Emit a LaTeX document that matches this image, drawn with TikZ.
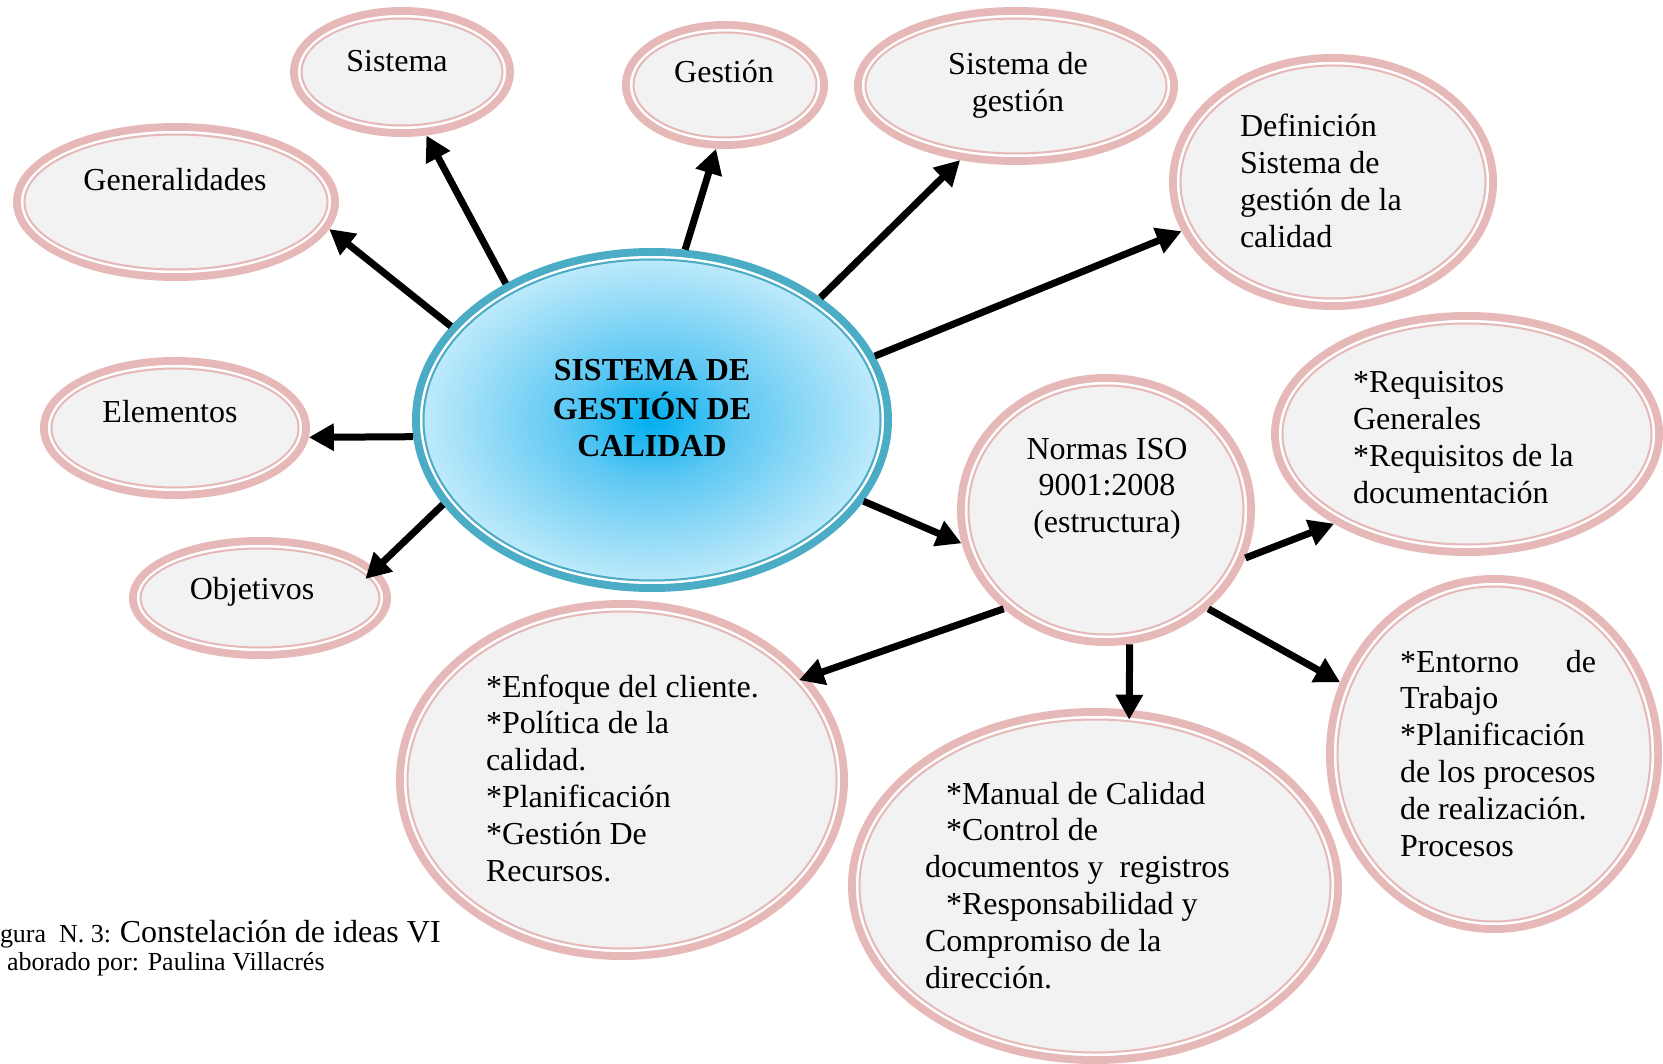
\documentclass[tikz,border=0pt]{standalone}
\usepackage{fontspec}
\setmainfont{Liberation Serif}
\usetikzlibrary{arrows.meta,shapes.geometric}
\definecolor{pinkb}{HTML}{E6B9B8}
\definecolor{fillg}{HTML}{F2F2F2}
\definecolor{tealb}{HTML}{4BACC6}
\definecolor{cbright}{HTML}{00AEEF}
\definecolor{cmid}{HTML}{5EC8F3}
\definecolor{cpale}{HTML}{C9EEFB}
\pgfdeclareradialshading{centsh}{\pgfpoint{0bp}{0bp}}{color(0bp)=(cbright); color(9bp)=(cmid); color(26bp)=(cpale); color(50bp)=(cpale)}
\tikzset{
  bub/.style={ellipse, draw=pinkb, line width=8pt, fill=fillg, inner sep=0pt, outer sep=4pt},
  cbub/.style={ellipse, draw=tealb, line width=8pt, shading=centsh, inner sep=0pt, outer sep=4pt},
  arr/.style={line width=7pt, -{Triangle[length=25pt,width=26pt]}},
  txt/.style={font=\fontsize{32}{36.8}\selectfont, inner sep=0pt, outer sep=0pt},
  captxt/.style={inner sep=0pt, outer sep=0pt, anchor=base west},
}
\newcommand\bubble[7]{%
  \pgfmathsetmacro\bw{2*#4-8}\pgfmathsetmacro\bh{2*#5-8}%
  \node[#6, minimum width=\bw pt, minimum height=\bh pt] (#1) at (#2,#3) {};
  \draw[white, line width=2.5pt] (#1.center) ellipse [x radius=#4pt-9.25pt, y radius=#5pt-9.25pt];
  \draw[#7, line width=2pt] (#1.center) ellipse [x radius=#4pt-11.5pt, y radius=#5pt-11.5pt];
}
\begin{document}
\begin{tikzpicture}[x=1pt,y=-1pt]
\path[use as bounding box, fill=white] (0,0) rectangle (1663,1064);

% bubbles
\bubble{gen}{176}{202}{163}{79}{bub}{pinkb}
\bubble{sis}{402}{72}{112}{65}{bub}{pinkb}
\bubble{ges}{725}{85}{103}{64}{bub}{pinkb}
\bubble{sdg}{1016}{86}{162}{79}{bub}{pinkb}
\bubble{def}{1333}{182}{164}{128}{bub}{pinkb}
\bubble{ele}{175}{428}{135}{71}{bub}{pinkb}
\bubble{obj}{260}{598}{131}{61}{bub}{pinkb}
\bubble{c}{652}{420}{240}{172}{cbub}{tealb}
\bubble{iso}{1106}{510}{149}{136}{bub}{pinkb}
\bubble{req}{1467}{434}{196}{122}{bub}{pinkb}
\bubble{enf}{622}{780}{226}{180}{bub}{pinkb}
\bubble{man}{1095}{886}{247}{178}{bub}{pinkb}
\bubble{ent}{1494}{754}{168}{179}{bub}{pinkb}

% connectors
\draw[arr] (c.155) -- (gen.350);
\draw[arr] (c.137) -- (sis.291);
\draw[arr] (c.79) -- (ges.262);
\draw[arr] (c.36) -- (sdg.233);
\draw[arr] (c.16) -- (def.198);
\draw[arr] (c.184) -- (ele.356);
\draw[arr, shorten >=-14pt] (c.202) -- (obj.14);
\draw[arr] (c.339) -- (iso.193);
\draw[arr] (iso.341) -- (req.214);
\draw[arr, shorten >=-9pt] (iso.224) -- (enf.29);
\draw[arr, shorten >=-10pt] (iso.280) -- (man.79);
\draw[arr] (iso.316) -- (ent.155);

% texts
\node[txt, anchor=base] (gen-t) at (175,191) {Generalidades};
\node[txt, anchor=base] (sis-t) at (397,72) {Sistema};
\node[txt, anchor=base] (ges-t) at (724,83) {Gestión};
\node[txt, anchor=base] (sdg-t) at (1018,75) {\begin{tabular}[t]{@{}c@{}}Sistema de\\gestión\end{tabular}};
\node[txt, anchor=base west] (def-t) at (1240,137) {\begin{tabular}[t]{@{}l@{}}Definición\\Sistema de\\gestión de la\\calidad\end{tabular}};
\node[txt, anchor=base] (ele-t) at (170,423) {Elementos};
\node[txt, anchor=base] (obj-t) at (252,599) {Objetivos};
\node[txt, font=\fontsize{32}{36.8}\selectfont\bfseries, anchor=base] (c-t) at (652,381) {\begin{tabular}[t]{@{}c@{}}SISTEMA DE\\GESTIÓN DE\\CALIDAD\end{tabular}};
\node[txt, anchor=base] (iso-t) at (1107,459) {\begin{tabular}[t]{@{}c@{}}Normas ISO\\9001:2008\\(estructura)\end{tabular}};
\node[txt, anchor=base west] (req-t) at (1353,393) {\begin{tabular}[t]{@{}l@{}}{}*Requisitos\\Generales\\{}*Requisitos de la\\documentación\end{tabular}};
\node[txt, anchor=base west] (enf-t) at (486,697) {\begin{tabular}[t]{@{}l@{}}{}*Enfoque del cliente.\\{}*Política de la\\calidad.\\{}*Planificación\\{}*Gestión De\\Recursos.\end{tabular}};
\node[txt, anchor=base west] (man-t) at (925,804) {\begin{tabular}[t]{@{}l@{}}\hspace*{21pt}*Manual de Calidad\\\hspace*{21pt}*Control de\\documentos y\ \ registros\\\hspace*{21pt}*Responsabilidad y\\Compromiso de la\\dirección.\end{tabular}};
\node[txt, anchor=base west] (ent-t) at (1400,672) {\begin{tabular}[t]{@{}l@{}}\hbox to 196pt{*Entorno\hfill de}\\Trabajo\\{}*Planificación\\de los procesos\\de realización.\\Procesos\end{tabular}};

% caption
\node[captxt] (cap1) at (0,942) {\fontsize{26}{30}\selectfont gura\ \ N. 3: \fontsize{32}{36}\selectfont Constelación de ideas VI};
\node[captxt] (cap2) at (7,970) {\fontsize{26}{30}\selectfont aborado por: Paulina Villacrés};
\end{tikzpicture}
\end{document}
